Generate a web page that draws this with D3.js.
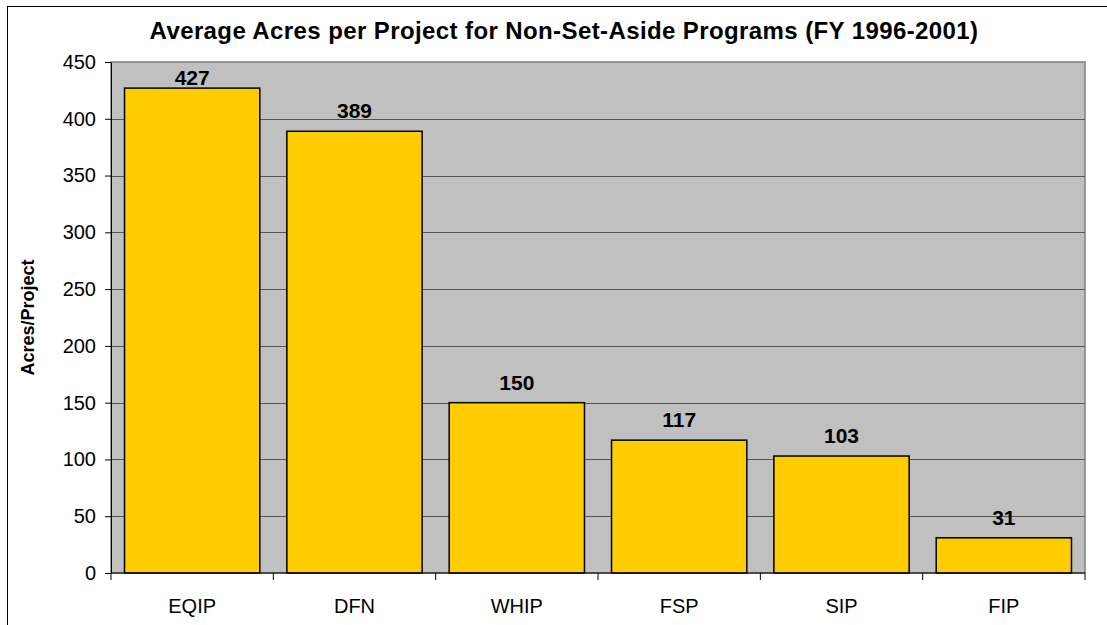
<!DOCTYPE html>
<html lang="en">
<head>
    <meta charset="UTF-8" />
    <title>Average Acres per Project</title>
    <script src="https://d3js.org/d3.v7.min.js"></script>
    <style>
        body { margin: 0; background: #fff; }
        text { font-family: Arial, "Liberation Sans", sans-serif; fill: #000; }
        .grid line { stroke: #555; stroke-width: 1; }
        .axis path, .axis line { stroke: #000; }
        .bar { fill: #ffcc00; stroke: #000; stroke-width: 1.5; }
    </style>
</head>
<body>
    <div id="chart"></div>

    <script>
        var width = 1107, height = 625;

        // dados
        const programs = ["EQIP", "DFN", "WHIP", "FSP", "SIP", "FIP"];
        const acres = [427, 389, 150, 117, 103, 31];
        const yTicks = [0, 50, 100, 150, 200, 250, 300, 350, 400, 450];

        // area do grafico
        const plot = { left: 111, top: 62, right: 1085, bottom: 573 };

        let svg = d3.select("#chart")
            .append("svg")
            .attr("width", width)
            .attr("height", height);

        // borda externa
        svg.append("rect")
            .attr("x", 7.5).attr("y", 6.5)
            .attr("width", 1120).attr("height", 640)
            .attr("fill", "#fff")
            .attr("stroke", "#000");

        var x = d3.scaleBand()
            .domain(programs)
            .range([plot.left, plot.right])
            .paddingInner(0.1667)
            .paddingOuter(0.0833);

        var y = d3.scaleLinear()
            .domain([0, 450])
            .range([plot.bottom, plot.top]);

        // fundo cinza
        svg.append("rect")
            .attr("x", plot.left).attr("y", plot.top)
            .attr("width", plot.right - plot.left)
            .attr("height", plot.bottom - plot.top)
            .attr("fill", "#c0c0c0")
            .attr("stroke", "#808080")
            .attr("stroke-width", 1.5);

        // linhas de grade
        svg.append("g")
            .attr("class", "grid")
            .selectAll("line")
            .data(yTicks.filter(d => d > 0 && d < 450))
            .enter()
            .append("line")
            .attr("x1", plot.left).attr("x2", plot.right)
            .attr("y1", d => Math.round(y(d)) + 0.5)
            .attr("y2", d => Math.round(y(d)) + 0.5);

        // barras
        svg.selectAll(".bar")
            .data(acres)
            .enter()
            .append("rect")
            .attr("class", "bar")
            .attr("x", (d, i) => x(programs[i]))
            .attr("y", d => y(d))
            .attr("width", x.bandwidth())
            .attr("height", d => y(0) - y(d));

        // rotulos das barras
        svg.selectAll(".label")
            .data(acres)
            .enter()
            .append("text")
            .attr("class", "label")
            .attr("x", (d, i) => x(programs[i]) + x.bandwidth() / 2)
            .attr("y", d => Math.max(y(d) - 13, plot.top + 23))
            .attr("text-anchor", "middle")
            .style("font-size", "21px")
            .style("font-weight", "bold")
            .text(d => d);

        // eixo y
        let yAxis = svg.append("g")
            .attr("class", "axis")
            .attr("transform", `translate(${plot.left},0)`)
            .call(d3.axisLeft(y).tickValues(yTicks).tickSize(6).tickPadding(9).tickSizeOuter(0));
        yAxis.selectAll("text").style("font-size", "20px");

        // eixo x
        let xAxis = svg.append("g")
            .attr("class", "axis")
            .attr("transform", `translate(0,${plot.bottom})`);
        xAxis.append("line")
            .attr("x1", plot.left).attr("x2", plot.right)
            .attr("stroke", "#000");
        xAxis.selectAll(".tick-mark")
            .data(d3.range(programs.length + 1))
            .enter()
            .append("line")
            .attr("x1", i => plot.left + i * x.step())
            .attr("x2", i => plot.left + i * x.step())
            .attr("y1", 0).attr("y2", 7)
            .attr("stroke", "#000");
        xAxis.selectAll(".xlab")
            .data(programs)
            .enter()
            .append("text")
            .attr("x", d => x(d) + x.bandwidth() / 2)
            .attr("y", 40)
            .attr("text-anchor", "middle")
            .style("font-size", "20px")
            .text(d => d);

        // titulo
        svg.append("text")
            .attr("x", 564)
            .attr("y", 39)
            .attr("text-anchor", "middle")
            .style("font-size", "24px")
            .style("font-weight", "bold")
            .style("letter-spacing", "0.4px")
            .text("Average Acres per Project for Non-Set-Aside Programs (FY 1996-2001)");

        // titulo do eixo y
        svg.append("text")
            .attr("transform", `translate(34,${(plot.top + plot.bottom) / 2}) rotate(-90)`)
            .attr("text-anchor", "middle")
            .style("font-size", "18px")
            .style("font-weight", "bold")
            .text("Acres/Project");
    </script>
</body>
</html>
